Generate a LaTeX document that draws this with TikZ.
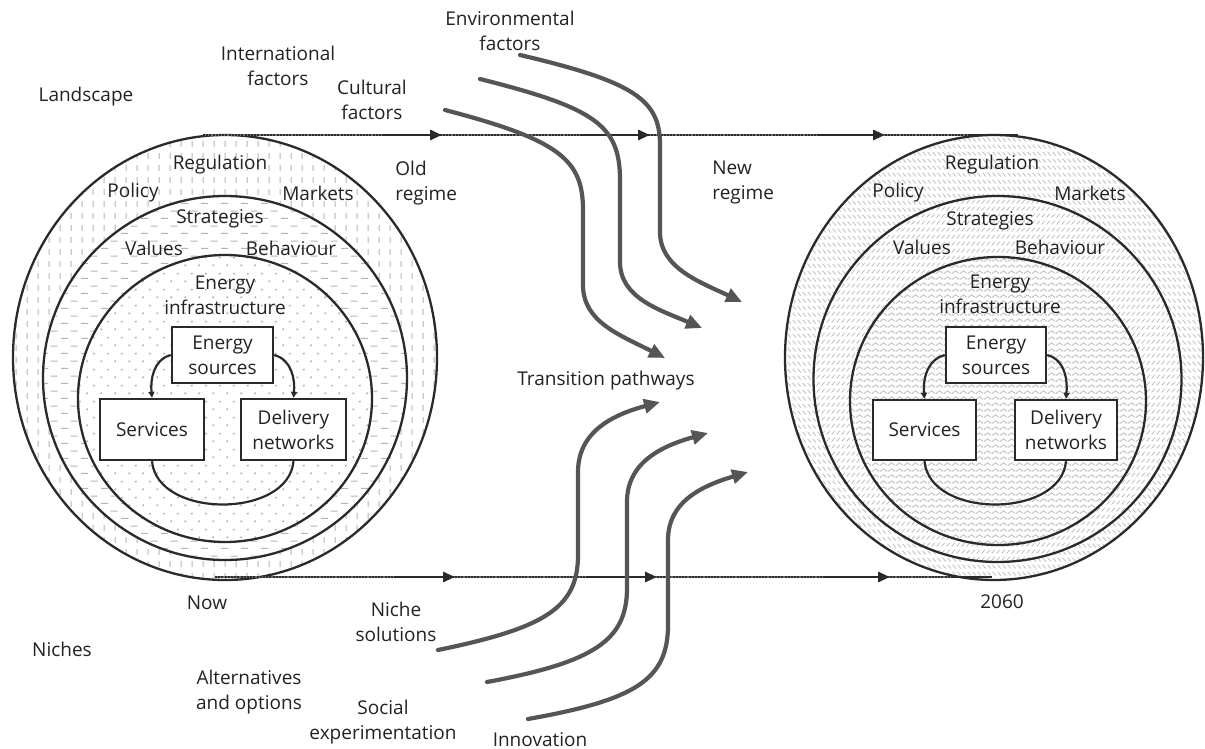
\documentclass[tikz,border=0pt]{standalone}
\usepackage{fontspec}
\setmainfont{Open Sans}
\usetikzlibrary{patterns.meta,arrows.meta,shapes.geometric}

\definecolor{txt}{HTML}{222222}
\definecolor{outl}{HTML}{2A2A2A}
\definecolor{agray}{HTML}{555555}
\definecolor{pgray}{HTML}{B4B4B4}
\definecolor{hgray}{HTML}{BDBDBD}
\definecolor{lgray}{HTML}{6E6E6E}

\tikzdeclarepattern{name=vdash, type=uncolored, bottom left={(0pt,0pt)}, top right={(5.5pt,6pt)}, tile size={(5.5pt,6pt)},
  code={\draw[line width=0.6pt] (2.75pt,1.2pt) -- (2.75pt,4.4pt);}}
\tikzdeclarepattern{name=hdash, type=uncolored, bottom left={(0pt,0pt)}, top right={(10pt,7.6pt)}, tile size={(10pt,7.6pt)},
  code={\draw[line width=0.6pt] (0.6pt,1.9pt) -- (4.2pt,1.9pt); \draw[line width=0.6pt] (5.6pt,5.7pt) -- (9.2pt,5.7pt);}}
\tikzdeclarepattern{name=sdots, type=uncolored, bottom left={(0pt,0pt)}, top right={(7pt,8pt)}, tile size={(7pt,8pt)},
  code={\fill (1.75pt,2pt) circle (0.6pt); \fill (5.25pt,6pt) circle (0.6pt);}}
\tikzdeclarepattern{name=bslash, type=uncolored, bottom left={(0pt,0pt)}, top right={(2.4pt,3.6pt)}, tile size={(2.4pt,3.6pt)},
  code={\draw[line width=0.4pt] (0.3pt,2.9pt) -- (2pt,0.8pt);}}
\tikzdeclarepattern{name=fslash, type=uncolored, bottom left={(0pt,0pt)}, top right={(2.4pt,3.6pt)}, tile size={(2.4pt,3.6pt)},
  code={\draw[line width=0.4pt] (0.3pt,0.8pt) -- (2pt,2.9pt);}}
\tikzdeclarepattern{name=zigzag, type=uncolored, bottom left={(0pt,0pt)}, top right={(4pt,3.2pt)}, tile size={(4pt,3.2pt)},
  code={\draw[line width=0.45pt, line join=miter] (0pt,0.8pt) -- (2pt,2.3pt) -- (4pt,0.8pt);}}

\tikzset{
  lbl/.style={font=\fontsize{9.5}{12.5}\selectfont, text=txt, align=center, inner sep=0pt},
  boxnode/.style={draw=outl, line width=1.2pt, fill=white, align=center, inner sep=0pt,
    font=\fontsize{9.5}{12.5}\selectfont, text=txt},
  ring/.style={draw=outl, line width=1.15pt},
  bigarrow/.style={draw=agray, line width=2.1pt, line cap=round, -{Triangle[length=8pt,width=7pt]}},
  cyc/.style={draw=outl, line width=1.1pt},
  cyca/.style={cyc, -{Triangle[length=3pt,width=3pt]}},
  hsolid/.style={draw=outl, line width=1.4pt, -{Triangle[length=6pt,width=5pt]}},
  hplain/.style={draw=outl, line width=1.4pt},
  hbase/.style={draw=lgray, line width=1.4pt},
  hdot/.style={draw=outl, line width=0.8pt, dash pattern=on 1pt off 0.6pt},
}

\begin{document}
\begin{tikzpicture}[x=0.5pt,y=-0.5pt]
\useasboundingbox[fill=white] (0,0) rectangle (1205,749);

% ---------- left circles (now) ----------
\path[fill=white] (225,357.5) ellipse [x radius=106pt, y radius=111.25pt];
\path[pattern=vdash, pattern color=pgray] (225,357.5) ellipse [x radius=106pt, y radius=111.25pt];
\draw[ring] (225,357.5) ellipse [x radius=106pt, y radius=111.25pt];
\path[fill=white] (225,378) ellipse [x radius=91pt, y radius=91pt];
\path[pattern=hdash, pattern color=pgray] (225,378) ellipse [x radius=91pt, y radius=91pt];
\draw[ring] (225,378) ellipse [x radius=91pt, y radius=91pt];
\path[fill=white] (225,398.5) ellipse [x radius=73.5pt, y radius=71.75pt];
\path[pattern=sdots, pattern color=pgray] (225,398.5) ellipse [x radius=73.5pt, y radius=71.75pt];
\draw[ring] (225,398.5) ellipse [x radius=73.5pt, y radius=71.75pt];

% ---------- right circles (2060) ----------
\path[fill=white] (994,357.5) ellipse [x radius=104.5pt, y radius=111.25pt];
\path[pattern=bslash, pattern color=hgray] (994,357.5) ellipse [x radius=104.5pt, y radius=111.25pt];
\draw[ring] (994,357.5) ellipse [x radius=104.5pt, y radius=111.25pt];
\path[fill=white] (997.5,379) ellipse [x radius=92pt, y radius=91.5pt];
\path[pattern=fslash, pattern color=hgray] (997.5,379) ellipse [x radius=92pt, y radius=91.5pt];
\draw[ring] (997.5,379) ellipse [x radius=92pt, y radius=91.5pt];
\path[fill=white] (998,401) ellipse [x radius=74pt, y radius=72pt];
\path[pattern=zigzag, pattern color=hgray] (998,401) ellipse [x radius=74pt, y radius=72pt];
\draw[ring] (998,401) ellipse [x radius=74pt, y radius=72pt];

% ---------- horizontal time lines ----------
\coordinate (t0) at (203,135);
\coordinate (t1) at (442,135);
\coordinate (t2) at (650,135);
\coordinate (t3) at (885,135);
\coordinate (t4) at (1018,135);
\coordinate (b0) at (215,577);
\coordinate (b1) at (455,577);
\coordinate (b2) at (657,577);
\coordinate (b3) at (890,577);
\coordinate (b4) at (992,577);
\draw[hbase] (t0) -- (t4);
\draw[hdot] (t0) -- (t4);
\draw[hbase] (b0) -- (b4);
\draw[hdot] (b0) -- (b4);
\draw[hsolid] ([xshift=-30pt]t1) -- (t1);
\draw[hsolid] ([xshift=-35pt]t2) -- (t2);
\draw[hsolid] ([xshift=-33pt]t3) -- (t3);
\draw[hplain] ([xshift=-25pt]t4) -- (t4);
\draw[hsolid] ([xshift=-30pt]b1) -- (b1);
\draw[hsolid] ([xshift=-35pt]b2) -- (b2);
\draw[hsolid] ([xshift=-33pt]b3) -- (b3);
\draw[hplain] ([xshift=-20pt]b4) -- (b4);

% ---------- boxes left ----------
\node[boxnode, minimum width=50.5pt, minimum height=28pt] (les) at (222.5,355) {Energy\\sources};
\node[boxnode, minimum width=52pt, minimum height=30.5pt] (lsv) at (152,429.5) {Services};
\node[boxnode, minimum width=52.5pt, minimum height=30.5pt] (ldn) at (293.5,429.5) {Delivery\\networks};
\draw[cyca] (les.west) to[out=195, in=95] (lsv.north);
\draw[cyca] (les.east) to[out=-15, in=85] (ldn.north);
\draw[cyc] (lsv.south) to[out=-85, in=-95, looseness=1.05] (ldn.south);

% ---------- boxes right ----------
\node[boxnode, minimum width=50pt, minimum height=28pt] (res) at (996,355) {Energy\\sources};
\node[boxnode, minimum width=51.5pt, minimum height=30pt] (rsv) at (924.5,430) {Services};
\node[boxnode, minimum width=51pt, minimum height=30pt] (rdn) at (1066,430) {Delivery\\networks};
\draw[cyca] (res.west) to[out=195, in=95] (rsv.north);
\draw[cyca] (res.east) to[out=-15, in=85] (rdn.north);
\draw[cyc] (rsv.south) to[out=-85, in=-95, looseness=1.05] (rdn.south);

% ---------- labels in left circle ----------
\node[lbl] (lreg) at (220,165) {Regulation};
\node[lbl] (lpol) at (133,193) {Policy};
\node[lbl] (lmar) at (318,193) {Markets};
\node[lbl] (lstr) at (220,219) {Strategies};
\node[lbl] (lval) at (154,248) {Values};
\node[lbl] (lbeh) at (291,248) {Behaviour};
\node[lbl] (linf) at (225,295) {Energy\\infrastructure};

% ---------- labels in right circle ----------
\node[lbl] (rreg) at (992,165) {Regulation};
\node[lbl] (rpol) at (898,193) {Policy};
\node[lbl] (rmar) at (1090,193) {Markets};
\node[lbl] (rstr) at (990,221) {Strategies};
\node[lbl] (rval) at (922,247) {Values};
\node[lbl] (rbeh) at (1060,247) {Behaviour};
\node[lbl] (rinf) at (1000,294) {Energy\\infrastructure};

% ---------- outer labels ----------
\node[lbl] (land) at (86,97) {Landscape};
\node[lbl] (intl) at (278,66) {International\\factors};
\node[lbl] (env) at (510,31) {Environmental\\factors};
\node[lbl] (cult) at (372,100) {Cultural\\factors};
\node[lbl, align=left, anchor=west] (old) at (395,183) {Old\\regime};
\node[lbl, align=left, anchor=west] (new) at (712,183) {New\\regime};
\node[lbl] (trans) at (606,381) {Transition pathways};
\node[lbl] (nich) at (62,649) {Niches};
\node[lbl] (now) at (207,603) {Now};
\node[lbl] (nsol) at (396,622) {Niche\\solutions};
\node[lbl] (alt) at (249,692) {Alternatives\\and options};
\node[lbl] (soc) at (383,722) {Social\\experimentation};
\node[lbl] (inno) at (540,740) {Innovation};
\node[lbl] (y2060) at (1002,602) {2060};

% ---------- transition pathway arrows (top) ----------
\coordinate (c1s) at (445,110);  \coordinate (c1e) at (665,358);
\coordinate (c2s) at (480,79);   \coordinate (c2e) at (702,328);
\coordinate (c3s) at (520,55);   \coordinate (c3e) at (742,302);
\draw[bigarrow] (c1s) .. controls (560,140) and (583,160) .. (583,210) -- (583,285) .. controls (583,322) and (620,335) .. (c1e);
\draw[bigarrow] (c2s) .. controls (595,108) and (620,125) .. (620,180) -- (620,262) .. controls (620,298) and (660,310) .. (c2e);
\draw[bigarrow] (c3s) .. controls (635,82) and (660,100) .. (660,145) -- (660,232) .. controls (660,268) and (700,282) .. (c3e);

% ---------- transition pathway arrows (bottom) ----------
\coordinate (n1s) at (438,650);  \coordinate (n1e) at (660,402);
\coordinate (n2s) at (487,682);  \coordinate (n2e) at (708,433);
\coordinate (n3s) at (528,719);  \coordinate (n3e) at (748,472);
\draw[bigarrow] (n1s) .. controls (545,628) and (578,608) .. (578,555) -- (578,472) .. controls (578,432) and (612,415) .. (n1e);
\draw[bigarrow] (n2s) .. controls (595,662) and (627,640) .. (627,588) -- (627,502) .. controls (627,462) and (662,446) .. (n2e);
\draw[bigarrow] (n3s) .. controls (635,700) and (668,680) .. (668,625) -- (668,540) .. controls (668,500) and (705,485) .. (n3e);
\end{tikzpicture}
\end{document}
